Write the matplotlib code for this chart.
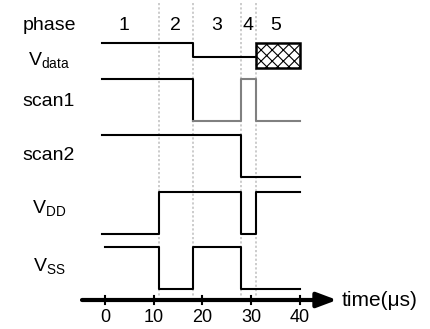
import matplotlib.pyplot as plt
from matplotlib.patches import Rectangle

plt.rcParams["font.family"] = ["Liberation Sans", "DejaVu Sans"]
plt.rcParams["mathtext.fontset"] = "custom"
plt.rcParams["mathtext.rm"] = "Liberation Sans"
plt.rcParams["hatch.linewidth"] = 0.8

# phase boundaries (us) and labels
phase_edges = [11, 18, 28, 31]
phase_names = ["1", "2", "3", "4", "5"]
phase_label_x = [3.9, 14.4, 23.0, 29.3, 35.1]

# signals: edge times and logic level in each interval
vdata_t = [-0.6, 18, 31]
vdata_v = [1, 0]
vdata_undefined = [31, 40]
scan1_t = [-0.6, 18, 28, 31, 40]
scan1_v = [1, 0, 1, 0]
scan2_t = [-0.6, 28, 40]
scan2_v = [1, 0]
vdd_t = [-0.6, 11, 28, 31, 40]
vdd_v = [0, 1, 0, 1]
vss_t = [0, 11, 18, 28, 40]
vss_v = [1, 0, 1, 0]

time_ticks = [0, 10, 20, 30, 40]

# layout in pixel rows: (y of high level, y of low level)
rows = {
    "vdata": (43, 57),
    "scan1": (79, 121),
    "scan2": (135, 177),
    "vdd": (192, 234),
    "vss": (247, 289),
}
row_labels = [
    (r"$\mathregular{V_{data}}$", 60),
    ("scan1", 102),
    ("scan2", 156),
    (r"$\mathregular{V_{DD}}$", 208),
    (r"$\mathregular{V_{SS}}$", 266),
]


def step_xy(times, levels, row):
    high, low = rows[row]
    xs, ys = [], []
    for i, lev in enumerate(levels):
        y = high if lev else low
        xs += [times[i], times[i + 1]]
        ys += [y, y]
    return xs, ys


fig = plt.figure(figsize=(4.31, 3.29), dpi=100)
ax = fig.add_axes([0, 0, 1, 1])
px = 4.875
ax.set_xlim(-105 / px, (431 - 105) / px)
ax.set_ylim(329, 0)
ax.axis("off")

# phase separators
for t in phase_edges:
    ax.plot([t, t], [3, 296], color="#c8c8c8", lw=1.3, ls=(0, (1.2, 1.2)), zorder=1)

label_x = (49 - 105) / px
ax.text(label_x, 26, "phase", ha="center", va="center", fontsize=14)
for name, x in zip(phase_names, phase_label_x):
    ax.text(x, 26, name, ha="center", va="center", fontsize=14)

for text, y in row_labels:
    ax.text(label_x, y, text, ha="center", va="center", fontsize=14)

black = "black"
gray = "#808080"

xs, ys = step_xy(vdata_t, vdata_v, "vdata")
ax.plot(xs, ys, color=black, lw=1.5, zorder=3)
high, low = rows["vdata"]
ax.add_patch(Rectangle((vdata_undefined[0], high), vdata_undefined[1] - vdata_undefined[0],
                       68 - high, facecolor="white", edgecolor=black, hatch="xxx",
                       lw=1.8, zorder=4))

xs, ys = step_xy(scan1_t, scan1_v, "scan1")
ax.plot(xs[:3], ys[:3], color=black, lw=1.5, zorder=3)
ax.plot(xs[2:], ys[2:], color=gray, lw=1.5, zorder=3)

xs, ys = step_xy(scan2_t, scan2_v, "scan2")
ax.plot(xs, ys, color=black, lw=1.5, zorder=3)

xs, ys = step_xy(vdd_t, vdd_v, "vdd")
ax.plot(xs, ys, color=black, lw=1.5, zorder=3)

xs, ys = step_xy(vss_t, vss_v, "vss")
ax.plot(xs, ys, color=black, lw=1.5, zorder=3)

# time axis with arrow
axis_y = 300
ax.annotate("", xy=((337 - 105) / px, axis_y), xytext=((82 - 105) / px, axis_y),
            arrowprops=dict(arrowstyle="-|>,head_length=1.2,head_width=0.45",
                            color=black, lw=3, shrinkA=0, shrinkB=0))
for t in time_ticks:
    ax.plot([t, t], [axis_y - 4, axis_y + 4], color=black, lw=1.5)
    ax.text(t, 318, str(t), ha="center", va="center", fontsize=13)
ax.text((342 - 105) / px, axis_y, "time(\u03bcs)", ha="left", va="center", fontsize=15)

fig.savefig("out.png", dpi=100)
